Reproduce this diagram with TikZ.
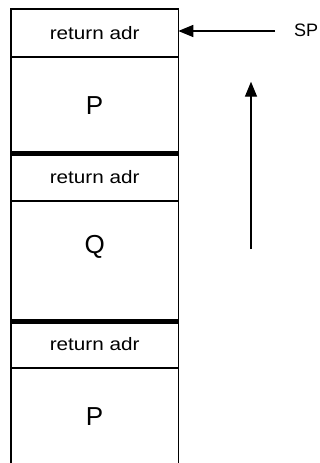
\documentclass[tikz,border=0pt]{standalone}
\usepackage{fontspec}
\setmainfont{Liberation Sans}
\newfontfamily\retfont[FakeStretch=1.15]{Liberation Sans}
\usetikzlibrary{positioning,arrows.meta}

\begin{document}
\begin{tikzpicture}[x=1pt,y=-1pt,
  cell/.style={draw, line width=1.5pt, minimum width=167.3pt, inner sep=0pt, outer sep=0pt},
  retcell/.style={cell, font=\retfont\fontsize{18}{20}\selectfont},
  proccell/.style={cell, font=\fontsize{26}{30}\selectfont},
  sep/.style={line width=5pt},
  stkarrow/.style={-{Triangle[length=15pt,width=12pt]}, line width=1.4pt}]
  \useasboundingbox (0,0) rectangle (320,463);

  % Draw the stack frames
  \node[retcell, minimum height=48pt, anchor=north west] (ret1) at (11,9) {return adr};
  \node[proccell, minimum height=96.5pt, below=0pt of ret1] (procP1) {P};
  \node[retcell, minimum height=47.5pt, below=0pt of procP1] (ret2) {return adr};
  \node[proccell, minimum height=120pt, below=0pt of ret2] (procQ) {};
  \node[font=\fontsize{26}{30}\selectfont, inner sep=0pt] (labQ) at ([yshift=14pt]procQ.center) {Q};
  \node[retcell, minimum height=47pt, below=0pt of procQ] (ret3) {return adr};
  \node[proccell, minimum height=98pt, below=0pt of ret3] (procP2) {P};

  % Frame borders
  \foreach \c in {procP1, procQ} {
    \draw[sep] (\c.south west) -- (\c.south east);
  }

  % Stack pointer
  \node[font=\fontsize{18}{21}\selectfont, inner sep=0pt, anchor=base west] (sp) at (294,36) {SP};
  \coordinate (spfoot) at (275,31);
  \draw[stkarrow] (spfoot) -- (spfoot -| ret1.east);

  % Direction of growth
  \coordinate (growlow) at (251,249);
  \coordinate (growhigh) at (251,81.7);
  \draw[stkarrow] (growlow) -- (growhigh);
\end{tikzpicture}
\end{document}
